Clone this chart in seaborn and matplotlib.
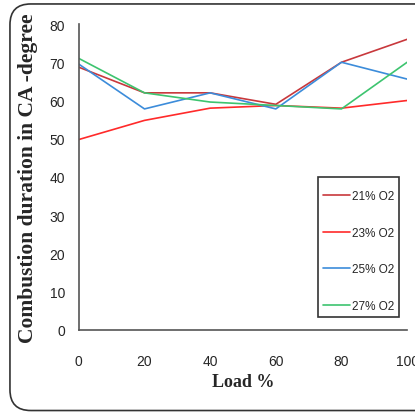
import matplotlib
matplotlib.use("Agg")
import matplotlib.pyplot as plt
import seaborn as sns
import pandas as pd
from matplotlib.patches import FancyBboxPatch, Rectangle

load = [0, 20, 40, 60, 80, 100]
o2_21 = [68.7, 62.0, 62.0, 59.0, 70.0, 76.0]
o2_23 = [49.8, 54.8, 58.0, 58.7, 58.0, 60.0]
o2_25 = [69.5, 57.8, 62.0, 57.8, 70.0, 65.6]
o2_27 = [71.0, 62.0, 59.6, 58.7, 57.8, 70.0]
series_names = ["21% O2", "23% O2", "25% O2", "27% O2"]
colors = ["#C8383C", "#FF2A2A", "#3C8CDA", "#3DC46F"]
yticks = [0, 10, 20, 30, 40, 50, 60, 70, 80]
xticks = [0, 20, 40, 60, 80, 100]

rows = []
for name, vals in zip(series_names, [o2_21, o2_23, o2_25, o2_27]):
    for x, v in zip(load, vals):
        rows.append({"Load": x, "Duration": v, "Series": name})
df = pd.DataFrame(rows)

sns.set_style("white")
fig = plt.figure(figsize=(4.15, 4.14), dpi=100)
ax = fig.add_axes([0.190, 0.2005, 0.791, 0.7391])

sns.lineplot(data=df, x="Load", y="Duration", hue="Series", palette=colors,
             ax=ax, linewidth=1.2, legend=True)

ax.set_xlim(0, 100)
ax.set_ylim(0, 80)
ax.set_xticks(xticks)
ax.set_yticks(yticks)
tick_font = ["Liberation Sans Narrow", "Liberation Sans", "DejaVu Sans"]
ax.set_xticklabels([str(t) for t in xticks], family=tick_font, fontsize=10)
ax.set_yticklabels([str(t) for t in yticks], family=tick_font, fontsize=10)
ax.tick_params(axis="x", direction="out", length=5, width=1, color="#555555", pad=12)
ax.tick_params(axis="y", direction="out", length=5, width=1, color="#555555", pad=5)
for s in ["top", "right"]:
    ax.spines[s].set_visible(False)
for s in ["left", "bottom"]:
    ax.spines[s].set_color("#555555")
    ax.spines[s].set_linewidth(1.2)

ax.set_xlabel("Load %", family=["Liberation Serif", "DejaVu Serif"],
              fontweight="bold", fontsize=13, labelpad=4)
ax.set_ylabel("Combustion duration in CA -degree",
              family=["Liberation Serif", "DejaVu Serif"],
              fontweight="bold", fontsize=15.5, labelpad=8)

leg = ax.legend(loc="upper left", bbox_to_anchor=(0.744, 0.456),
                frameon=False, prop={"family": tick_font, "size": 8.5},
                labelspacing=2.07, handlelength=2.25, handletextpad=0.2,
                borderpad=0, borderaxespad=0)
ax.add_patch(Rectangle((0.729, 0.042), 0.247, 0.458, transform=ax.transAxes,
                       fill=False, edgecolor="#333333", linewidth=1.2,
                       clip_on=False, zorder=5))

border = FancyBboxPatch((0.024, 0.006), 1.05, 0.982,
                        boxstyle="round,pad=0,rounding_size=0.05",
                        transform=fig.transFigure, fill=False,
                        edgecolor="#333333", linewidth=1.2, clip_on=False)
fig.patches.append(border)

fig.savefig("out.png", dpi=100)
